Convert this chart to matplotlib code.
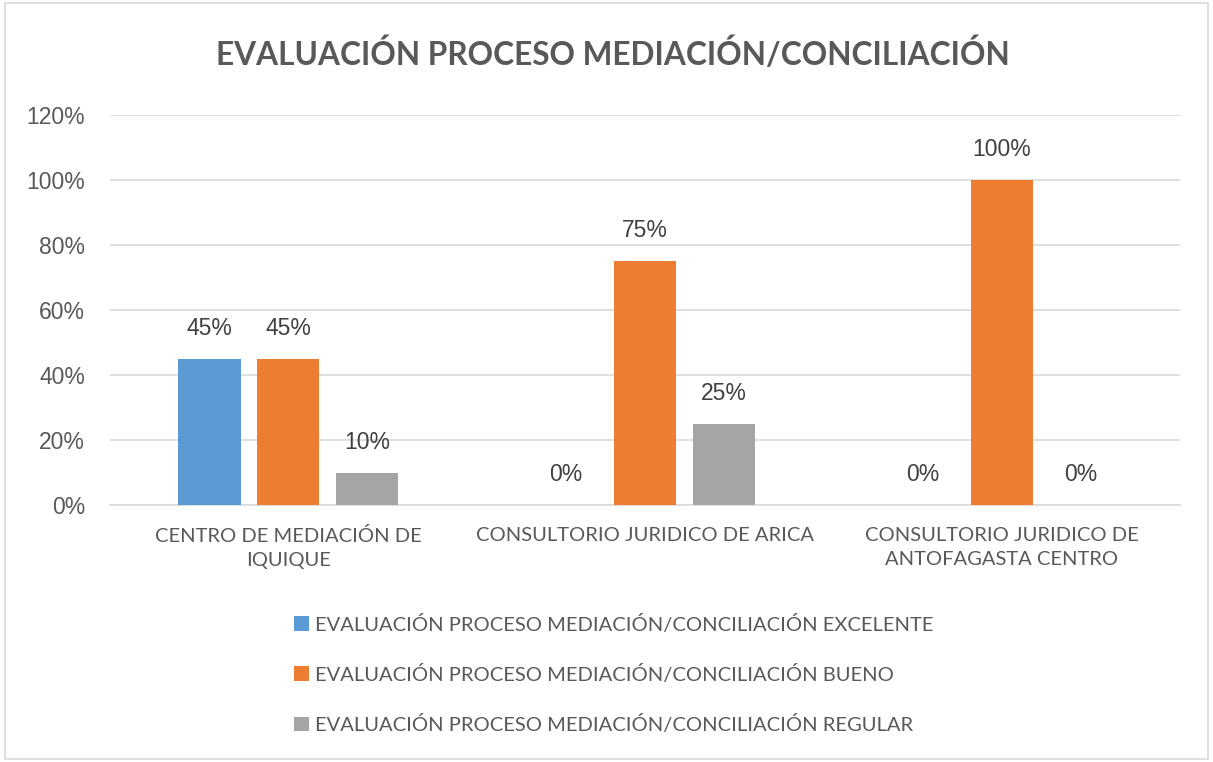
import numpy as np
import matplotlib
matplotlib.use("Agg")
import matplotlib.pyplot as plt
from matplotlib.patches import Rectangle

categories = ["CENTRO DE MEDIACIÓN DE\nIQUIQUE",
              "CONSULTORIO JURIDICO DE ARICA",
              "CONSULTORIO JURIDICO DE\nANTOFAGASTA CENTRO"]
series = ["EVALUACIÓN PROCESO MEDIACIÓN/CONCILIACIÓN EXCELENTE",
          "EVALUACIÓN PROCESO MEDIACIÓN/CONCILIACIÓN BUENO",
          "EVALUACIÓN PROCESO MEDIACIÓN/CONCILIACIÓN REGULAR"]
excelente = [0.45, 0.0, 0.0]
bueno = [0.45, 0.75, 1.0]
regular = [0.10, 0.25, 0.0]

colors = ["#5B9BD5", "#ED7D31", "#A5A5A5"]
text_col = "#595959"
cal = ["Lato", "DejaVu Sans"]

fig = plt.figure(figsize=(12.13, 7.62), dpi=100)
ax = fig.add_axes([0.0907, 0.337, 0.882, 0.512])

x = np.arange(len(categories))
width = 0.174
offsets = [-0.221, 0.0, 0.221]
handles = []
for vals, off, col, name in zip([excelente, bueno, regular], offsets, colors, series):
    bars = ax.bar(x + off, vals, width, color=col, label=name, zorder=3)
    handles.append(bars)
    for xi, v in zip(x + off, vals):
        ax.annotate(f"{v*100:.0f}%", (xi, v), xytext=(0, 22), textcoords="offset points",
                    ha="center", va="center", fontsize=16.5, color="#404040",
                    family="Liberation Sans")

ax.set_xlim(-0.5, 2.5)
ax.set_ylim(0, 1.2)
ax.set_yticks(np.arange(0, 1.21, 0.2))
ax.set_yticklabels([f"{t*100:.0f}%" for t in np.arange(0, 1.21, 0.2)],
                   fontsize=16.5, color=text_col, family="Liberation Sans")
ax.set_xticks(x)
ax.set_xticklabels(categories, fontsize=14.5, color=text_col, family=cal, linespacing=1.5)
ax.tick_params(axis="y", length=0, pad=18)
ax.tick_params(axis="x", length=0, pad=16)
ax.grid(axis="y", color="#D9D9D9", linewidth=1.2, zorder=0)
for s in ["top", "right", "left"]:
    ax.spines[s].set_visible(False)
ax.spines["bottom"].set_color("#D9D9D9")
ax.spines["bottom"].set_linewidth(1.2)

fig.text(0.505, 0.93, "EVALUACIÓN PROCESO MEDIACIÓN/CONCILIACIÓN", ha="center", va="center",
         fontsize=22.8, fontweight="bold", color=text_col, family=cal)

leg = fig.legend(handles=handles, labels=series, loc="upper left",
                 bbox_to_anchor=(0.236, 0.204), frameon=False, ncol=1,
                 prop={"family": cal, "size": 14.5}, handlelength=0.75, handleheight=0.75,
                 handletextpad=0.3, labelspacing=1.55, borderaxespad=0)
for t in leg.get_texts():
    t.set_color(text_col)

fig.patches.append(Rectangle((0.004, 0.004), 0.992, 0.992, transform=fig.transFigure,
                             fill=False, edgecolor="#D9D9D9", linewidth=1.2))

fig.savefig("out.png", dpi=100)
